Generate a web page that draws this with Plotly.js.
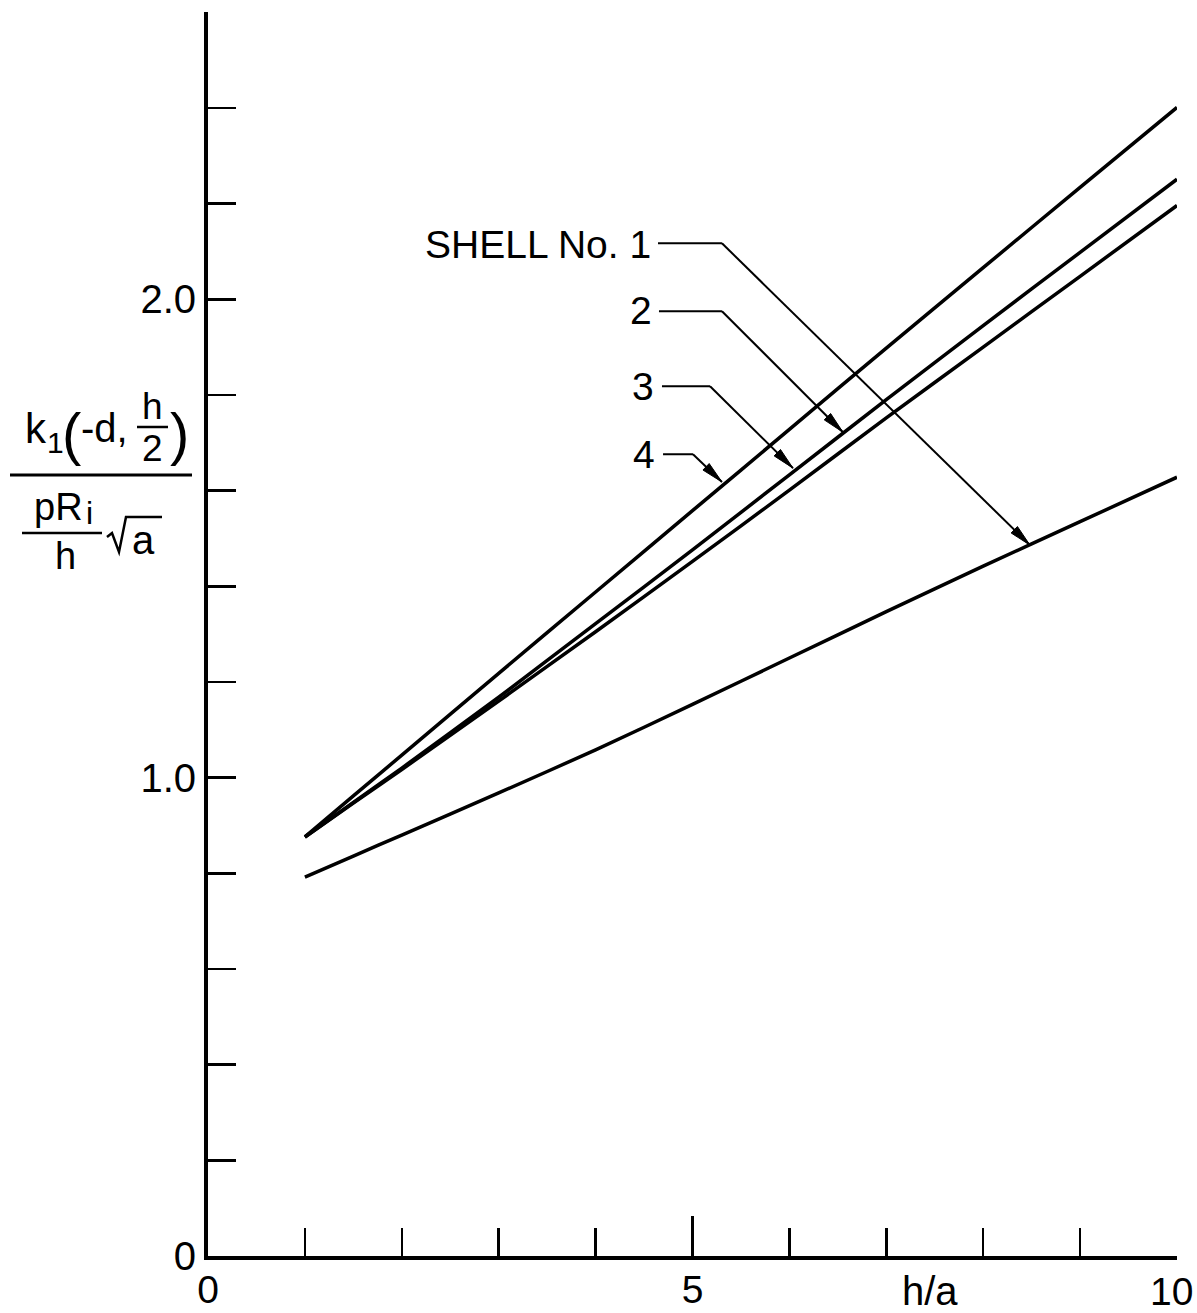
<!DOCTYPE html>
<html>
<head>
<meta charset="utf-8">
<script src="https://cdn.plot.ly/plotly-3.0.1.min.js"></script>
<style>html,body{margin:0;padding:0;background:#fff;}#chart{width:1197px;height:1313px;}</style>
</head>
<body>
<div id="chart"></div>
<script>
// ---- data ----
const hOverA = [1, 1.5, 2, 3, 4, 5, 6, 7, 8, 9, 10];
const shell1 = [0.792, 0.836, 0.880, 0.968, 1.058, 1.153, 1.250, 1.347, 1.442, 1.535, 1.628];
const shell2 = [0.876, 0.948, 1.020, 1.168, 1.322, 1.476, 1.633, 1.790, 1.945, 2.098, 2.251];
const shell3 = [0.876, 0.947, 1.017, 1.160, 1.305, 1.452, 1.601, 1.752, 1.900, 2.048, 2.196];
const shell4 = [0.876, 0.962, 1.047, 1.218, 1.388, 1.558, 1.728, 1.898, 2.066, 2.234, 2.401];

const yTickVals = [0, 1, 2];
const yTickText = ['0', '1.0', '2.0'];
const xTickVals = [0, 5, 10];
const xTickText = ['0', '5', ''];
const xEndLabel = '10';

// label texts and leader geometry (data coordinates)
const labelTexts = ['SHELL No. 1', '2', '3', '4'];
const labelTextX = [4.58, 4.59, 4.61, 4.62];
const labelTextY = [2.115, 1.977, 1.818, 1.676];
const leaderStartX = [4.644, 4.654, 4.685, 4.696];
const leaderCornerX = [5.304, 5.304, 5.181, 5.005];
const leaderY = [2.117, 1.975, 1.818, 1.676];
const tipX = [8.483, 6.553, 6.037, 5.304];
const tipY = [1.486, 1.722, 1.647, 1.618];

const FONT = 'Liberation Sans, Arial, sans-serif';
const black = '#000';
const XMAX = 10, YMAX = 2.6005;

function curve(y, name) {
  return {x: hOverA, y: y, name: name, type: 'scatter', mode: 'lines',
    line: {color: black, width: 3.5, shape: 'spline', smoothing: 0.6}, hoverinfo: 'skip'};
}
const traces = [curve(shell1, 'Shell 1'), curve(shell2, 'Shell 2'), curve(shell3, 'Shell 3'), curve(shell4, 'Shell 4')];

// pixel <-> paper helpers
const L = 208, T = 12, W = 969, H = 1244;
const X = px => (px - L) / W;
const Y = py => (T + H - py) / H;
const dx2px = x => L + x / XMAX * W;
const dy2px = y => T + H - y / YMAX * H;

const annotations = [];
const shapes = [];

// leader labels, horizontal + diagonal segments and arrowheads
for (let i = 0; i < labelTexts.length; i++) {
  annotations.push({x: labelTextX[i], y: labelTextY[i], xref: 'x', yref: 'y', text: labelTexts[i],
    showarrow: false, xanchor: 'right', yanchor: 'middle', borderpad: 0,
    font: {family: FONT, size: 39, color: black}});
  shapes.push({type: 'line', xref: 'x', yref: 'y', x0: leaderStartX[i], x1: leaderCornerX[i],
    y0: leaderY[i], y1: leaderY[i], line: {color: black, width: 2}});
  shapes.push({type: 'line', xref: 'x', yref: 'y', x0: leaderCornerX[i], x1: tipX[i],
    y0: leaderY[i], y1: tipY[i], line: {color: black, width: 2}});
  const tx = dx2px(tipX[i]), ty = dy2px(tipY[i]);
  const cx = dx2px(leaderCornerX[i]), cy = dy2px(leaderY[i]);
  const d = Math.hypot(tx - cx, ty - cy), ux = (tx - cx) / d, uy = (ty - cy) / d;
  const nx = -uy, ny = ux, len = 22, hw = 4.5;
  const bx = tx - len * ux, by = ty - len * uy;
  shapes.push({type: 'path', xref: 'paper', yref: 'paper',
    path: `M ${X(tx)},${Y(ty)} L ${X(bx + hw * nx)},${Y(by + hw * ny)} L ${X(bx - hw * nx)},${Y(by - hw * ny)} Z`,
    fillcolor: black, line: {color: black, width: 1}});
}

// x-axis variable label and end label (kept inside the page edge)
annotations.push({x: 7.45, y: Y(1291), xref: 'x', yref: 'paper', text: 'h/a', showarrow: false,
  xanchor: 'center', yanchor: 'middle', font: {family: FONT, size: 40, color: black}});
annotations.push({x: XMAX, y: Y(1291), xref: 'x', yref: 'paper', text: xEndLabel, showarrow: false,
  xanchor: 'center', yanchor: 'middle', xshift: -6, borderpad: 0, font: {family: FONT, size: 39, color: black}});

// y-axis title as stacked fraction
const tf = (text, px, py, size, anchor) => annotations.push({x: X(px), y: Y(py), xref: 'paper', yref: 'paper',
  text: text, showarrow: false, xanchor: anchor || 'center', yanchor: 'middle', borderpad: 0,
  font: {family: FONT, size: size, color: black}});
tf('k', 24, 428, 42, 'left');
tf('1', 55, 442, 30);
tf('(', 71, 433, 58);
tf('-d,', 80, 428, 40, 'left');
tf('h', 152, 406, 37);
tf('2', 152, 448, 37);
tf(')', 179, 433, 58);
tf('pR', 33, 507, 38, 'left');
tf('i', 89, 513, 32);
tf('h', 65, 556, 38);
tf('a', 143, 540, 40);
const pline = (x0, y0, x1, y1, w) => shapes.push({type: 'line', xref: 'paper', yref: 'paper',
  x0: X(x0), x1: X(x1), y0: Y(y0), y1: Y(y1), line: {color: black, width: w}});
pline(137, 427, 168, 427, 2.5);
pline(10, 475, 192, 475, 3);
pline(22, 533, 102, 533, 2.5);
shapes.push({type: 'path', xref: 'paper', yref: 'paper',
  path: `M ${X(107)},${Y(537)} L ${X(112)},${Y(533)} L ${X(119)},${Y(552)} L ${X(126)},${Y(517)} L ${X(162)},${Y(517)}`,
  line: {color: black, width: 2.5}});

const layout = {
  width: 1197, height: 1313,
  margin: {l: L, r: 1197 - L - W, t: T, b: 1313 - T - H, pad: 0},
  paper_bgcolor: '#fff', plot_bgcolor: '#fff',
  showlegend: false,
  font: {family: FONT, color: black},
  xaxis: {range: [0, XMAX], showgrid: false, zeroline: false, showline: true, linecolor: black, linewidth: 4,
    ticks: 'inside', ticklen: 40, tickwidth: 2.5, tickcolor: black,
    tickmode: 'array', tickvals: xTickVals, ticktext: xTickText,
    tickfont: {family: FONT, size: 39, color: black}, ticklabelstandoff: -4,
    minor: {dtick: 1, ticks: 'inside', ticklen: 28, tickwidth: 2.5, tickcolor: black, showgrid: false},
    automargin: false, fixedrange: true},
  yaxis: {range: [0, YMAX], showgrid: false, zeroline: false, showline: true, linecolor: black, linewidth: 4,
    ticks: 'inside', ticklen: 28, tickwidth: 2.5, tickcolor: black,
    tickmode: 'array', tickvals: yTickVals, ticktext: yTickText,
    tickfont: {family: FONT, size: 40, color: black},
    minor: {dtick: 0.2, ticks: 'inside', ticklen: 28, tickwidth: 2.5, tickcolor: black, showgrid: false},
    automargin: false, fixedrange: true},
  annotations: annotations,
  shapes: shapes
};

Plotly.newPlot('chart', traces, layout, {staticPlot: true, displayModeBar: false});
</script>
</body>
</html>
